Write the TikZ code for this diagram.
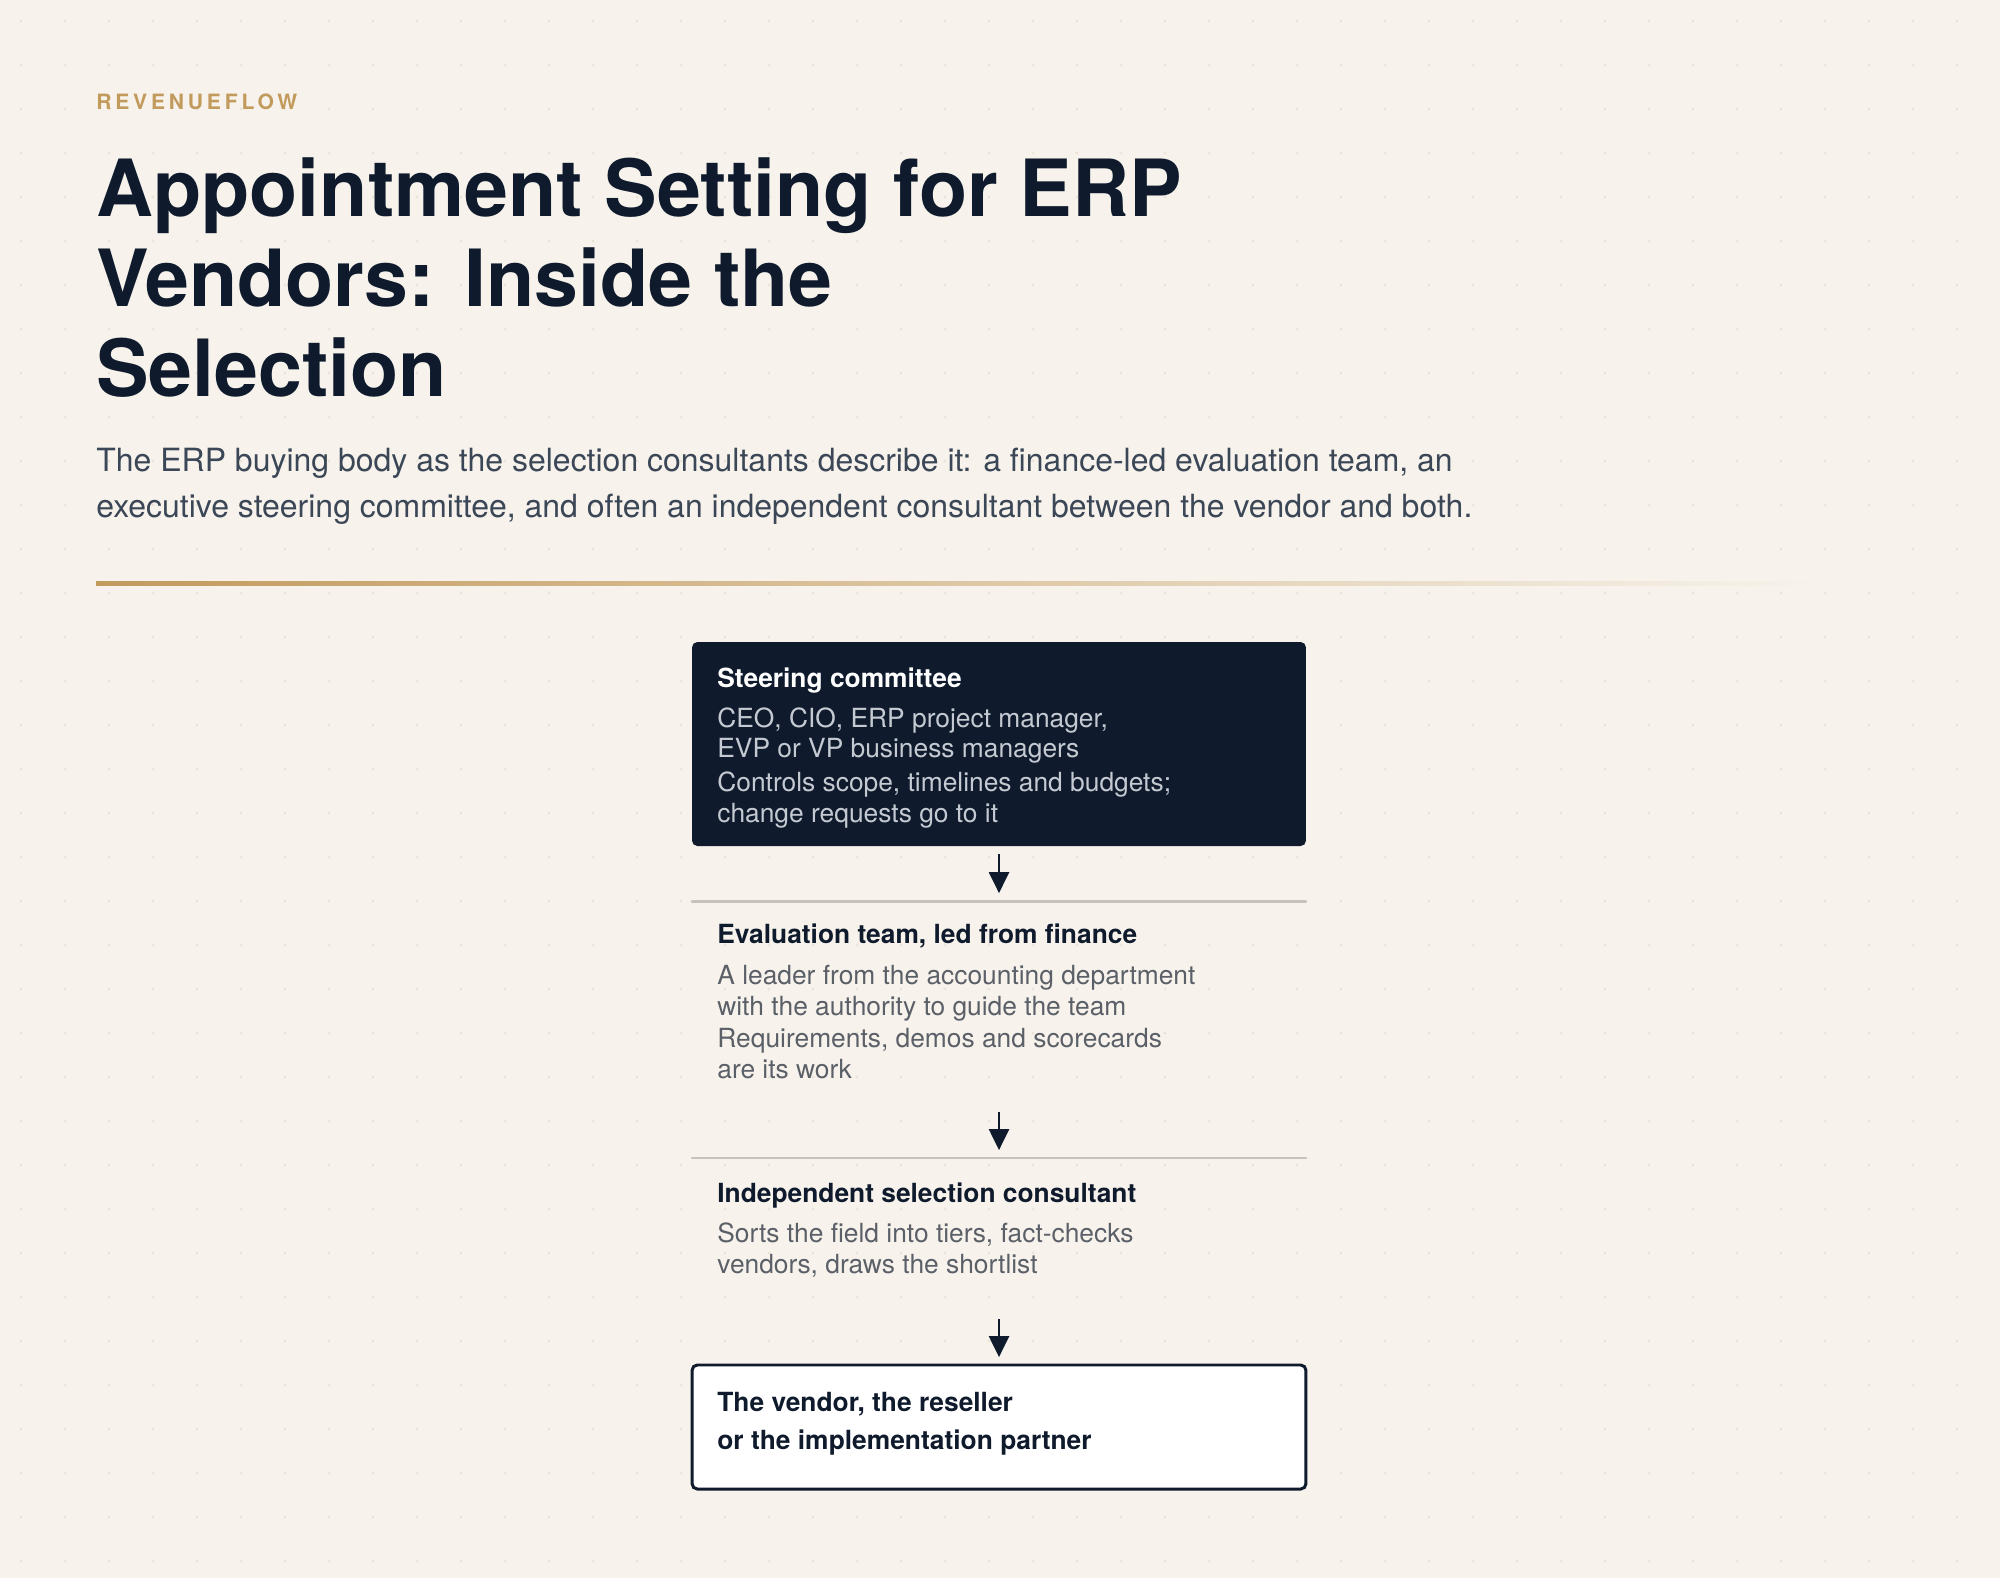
\documentclass[tikz,border=0pt]{standalone}
\usepackage{fontspec}
\setmainfont{TeX Gyre Heros}
\newfontfamily\brandfont[LetterSpace=18]{TeX Gyre Heros}
\usetikzlibrary{arrows.meta,positioning}

\definecolor{paper}{HTML}{F7F3EC}
\definecolor{dotc}{HTML}{EAE4D9}
\definecolor{navy}{HTML}{0F1B2D}
\definecolor{gold}{HTML}{C29A5C}
\definecolor{slate}{HTML}{3B4757}
\definecolor{mist}{HTML}{C5CAD2}
\definecolor{greytext}{HTML}{5B6068}
\definecolor{rulec}{HTML}{C6C3BA}

\begin{document}
\begin{tikzpicture}[x=0.02cm, y=-0.02cm]
    \tikzstyle{flow}=[draw=navy, line width=1.1pt, -{Triangle[length=12pt,width=11.5pt]}, shorten <=4.5pt, shorten >=4.5pt]
    \tikzstyle{section}=[minimum width=349.4pt, inner sep=0pt, outer sep=0pt]
    \tikzstyle{rule}=[draw=rulec, line width=1.7pt, line cap=round]
    \tikzstyle{head}=[anchor=base west, inner sep=0pt, text=navy, font=\bfseries\fontsize{15}{18}\selectfont]
    \tikzstyle{body}=[anchor=base west, inner sep=0pt, text=greytext, font=\fontsize{15}{18}\selectfont]
    \tikzstyle{title}=[anchor=base west, inner sep=0pt, text=navy, font=\bfseries\fontsize{44.9}{50}\selectfont]
    \tikzstyle{lead}=[anchor=base west, inner sep=0pt, text=slate, font=\fontsize{18.2}{22}\selectfont]

    % page
    \useasboundingbox (0,0) rectangle (2000,1578);
    \fill[paper] (0,0) rectangle (2000,1578);
    \foreach \x in {0,...,45} {
        \foreach \y in {0,...,35} {
            \fill[dotc] (21+44*\x, 21+44*\y) circle (0.9pt);
        }
    }

    % header
    \node[anchor=base west, inner sep=0pt, text=gold, font=\brandfont\bfseries\fontsize{12}{14}\selectfont] (brand) at (96,110) {REVENUEFLOW};
    \foreach \t/\y [count=\i] in {Appointment Setting for ERP/216, Vendors: Inside the/306, Selection/396} {
        \node[title] (title\i) at (96,\y) {\t};
    }
    \node[lead] (lead1) at (96,471.5) {The ERP buying body as the selection consultants describe it: a finance-led evaluation team, an};
    \node[lead] (lead2) at (96,517) {executive steering committee, and often an independent consultant between the vendor and both.};
    \shade[left color=gold, right color=paper] (96,581.5) rectangle (1830,585.5);

    % steering committee
    \node[section, fill=navy, rounded corners=3pt, minimum height=116.1pt] (steer) at (999,744) {};
    \node[head, text=white] (steerhead) at (717,687) {Steering committee};
    \foreach \t/\y in {{CEO, CIO, ERP project manager,}/727, EVP or VP business managers/757.5, {Controls scope, timelines and budgets;}/791, change requests go to it/822} {
        \node[body, text=mist] at (717,\y) {\t};
    }

    % evaluation team
    \node[section, minimum height=115.5pt] (evalu) at (999,1002.5) {};
    \draw[rule] (evalu.north west) -- (evalu.north east);
    \node[head] (evaluhead) at (717,943) {Evaluation team, led from finance};
    \foreach \t/\y in {A leader from the accounting department/984, with the authority to guide the team/1015, {Requirements, demos and scorecards}/1047.5, are its work/1078} {
        \node[body] at (717,\y) {\t};
    }

    % consultant
    \node[section, minimum height=87.1pt] (consult) at (999,1234.5) {};
    \draw[rule] (consult.north west) -- (consult.north east);
    \node[head] (consulthead) at (717,1202) {Independent selection consultant};
    \node[body] at (717,1242) {Sorts the field into tiers, fact-checks};
    \node[body] at (717,1273) {vendors, draws the shortlist};

    % vendor
    \node[section, fill=white, draw=navy, line width=1.7pt, rounded corners=3pt, minimum height=70.6pt] (vendor) at (999,1427) {};
    \node[head] (vendorline1) at (717,1411) {The vendor, the reseller};
    \node[head] (vendorline2) at (717,1449) {or the implementation partner};

    \draw[flow] (steer.south) -- (evalu.north);
    \draw[flow] (evalu.south) -- (consult.north);
    \draw[flow] (consult.south) -- (vendor.north);

\end{tikzpicture}
\end{document}
